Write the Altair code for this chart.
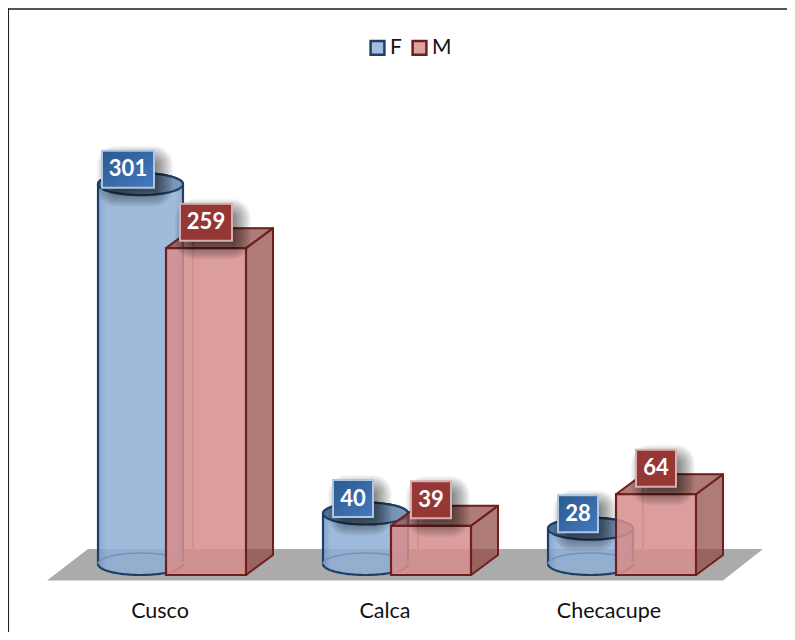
import altair as alt
import numpy as np
import pandas as pd

categories = ["Cusco", "Calca", "Checacupe"]
f_values = [301, 40, 28]
m_values = [259, 39, 64]

# layout constants (screen pixels relative to the chart origin)
W, H = 779, 624
ZERO_PX = 567
PX_PER_UNIT = 1.262
STEP = 225
CYL_LEFT, CYL_W = 90, 85
BOX_LEFT, BOX_W = 158, 80
DX, DY_PX = 27, 20
DY = DY_PX / PX_PER_UNIT
CYL_BASE = 11 / PX_PER_UNIT
RY = 11 / PX_PER_UNIT
FONT = "Lato"

x_scale = alt.Scale(domain=[0, W], range=[0, W], nice=False, zero=False)
y_scale = alt.Scale(domain=[(ZERO_PX - H) / PX_PER_UNIT, ZERO_PX / PX_PER_UNIT], range=[H, 0], nice=False, zero=False)
X = lambda f="x": alt.X(f"{f}:Q", scale=x_scale, axis=None, title=None)
Y = lambda f="y": alt.Y(f"{f}:Q", scale=y_scale, axis=None, title=None)
X2 = alt.X2("x2:Q")
Y2 = alt.Y2("y2:Q")


def vface(rows, fill, opacity, stroke=None, sw=1.5):
    kw = dict(fill=fill, fillOpacity=opacity, orient="vertical")
    if stroke:
        kw.update(stroke=stroke, strokeWidth=sw, strokeJoin="round")
    return alt.Chart(pd.DataFrame(rows)).mark_area(**kw).encode(x=X(), y=Y(), y2=Y2, detail="id:N")


def hface(rows, fill, opacity, stroke=None, sw=1.5):
    kw = dict(fill=fill, fillOpacity=opacity, orient="horizontal")
    if stroke:
        kw.update(stroke=stroke, strokeWidth=sw, strokeJoin="round")
    return alt.Chart(pd.DataFrame(rows)).mark_area(**kw).encode(y=Y(), x=X(), x2=X2, detail="id:N")


def rects(rows, fill, opacity=1.0, stroke=None, sw=1.5, radius=0):
    kw = dict(fill=fill, opacity=opacity)
    if stroke:
        kw.update(stroke=stroke, strokeWidth=sw)
    if radius:
        kw.update(cornerRadius=radius)
    return alt.Chart(pd.DataFrame(rows)).mark_rect(**kw).encode(x=X(), x2=X2, y=Y(), y2=Y2)


layers = []

# open frame: top and left edges only
layers.append(alt.Chart(pd.DataFrame([dict(x=0, x2=W, y=(ZERO_PX - 1) / PX_PER_UNIT)])).mark_rule(
    stroke="#555555", strokeWidth=2).encode(x=X(), x2=X2, y=Y()))
layers.append(alt.Chart(pd.DataFrame([dict(x=0.3, y=(ZERO_PX - H) / PX_PER_UNIT, y2=ZERO_PX / PX_PER_UNIT)])).mark_rule(
    stroke="#222222", strokeWidth=1.5).encode(x=X(), y=Y(), y2=Y2))

# floor
floor_front, floor_back = -5.5 / PX_PER_UNIT, 26 / PX_PER_UNIT
layers.append(hface([
    dict(id=0, y=floor_front, x=39, x2=715),
    dict(id=0, y=floor_back, x=80, x2=755),
], "#ABABAB", 1))

# cylinders
t = np.linspace(0, np.pi, 61)
body, top, inner = [], [], []
for i, v in enumerate(f_values):
    cx = CYL_LEFT + i * STEP + CYL_W / 2
    for a in t:
        px = cx - np.cos(a) * CYL_W / 2
        s = np.sin(a) * RY
        body.append(dict(id=i, x=px, y=CYL_BASE + v + s, y2=CYL_BASE - s))
        top.append(dict(id=i, x=px, y=CYL_BASE + v + s, y2=CYL_BASE + v - s))
        inner.append(dict(id=i, x=px, y=CYL_BASE + s))
body_fill = alt.LinearGradient(gradient="linear", x1=0, x2=1, y1=0, y2=0, stops=[
    alt.GradientStop(color="#7396C4", offset=0), alt.GradientStop(color="#8FAED4", offset=0.1),
    alt.GradientStop(color="#8FAED4", offset=0.9), alt.GradientStop(color="#7E9FC9", offset=1)])
layers.append(vface(body, body_fill, 0.85, "#1F3F66", 2.2))
layers.append(alt.Chart(pd.DataFrame(inner)).mark_line(stroke="#6F93BD", strokeWidth=1.5).encode(x=X(), y=Y(), detail="id:N"))
top_fill = alt.LinearGradient(gradient="linear", x1=0, x2=1, y1=0, y2=0, stops=[
    alt.GradientStop(color="#4F6F92", offset=0), alt.GradientStop(color="#7E9BB8", offset=1)])
layers.append(vface(top, top_fill, 1, "#1F3F66", 2.2))

# boxes
RED_DARK, RED_SOFT = "#6E2020", "#C98A88"
back, left_f, floor_f, right_f, top_f, front = [], [], [], [], [], []
for i, v in enumerate(m_values):
    l = BOX_LEFT + i * STEP
    r = l + BOX_W
    back.append(dict(x=l + DX, x2=r + DX, y=DY, y2=v + DY))
    left_f += [dict(id=i, x=l, y=v, y2=0), dict(id=i, x=l + DX, y=v + DY, y2=DY)]
    floor_f += [dict(id=i, y=0, x=l, x2=r), dict(id=i, y=DY, x=l + DX, x2=r + DX)]
    right_f += [dict(id=i, x=r, y=v, y2=0), dict(id=i, x=r + DX, y=v + DY, y2=DY)]
    top_f += [dict(id=i, y=v, x=l, x2=r), dict(id=i, y=v + DY, x=l + DX, x2=r + DX)]
    front.append(dict(x=l, x2=r, y=0, y2=v))
layers.append(alt.Chart(pd.DataFrame(back)).mark_rect(fill="#C0504D", fillOpacity=0.1, stroke=RED_SOFT, strokeWidth=1.5).encode(x=X(), x2=X2, y=Y(), y2=Y2))
layers.append(vface(left_f, "#C0504D", 0.08, RED_SOFT, 1.2))
layers.append(hface(floor_f, "#C0504D", 0.12, RED_SOFT, 1.2))
layers.append(vface(right_f, "#8E4A44", 0.7, RED_DARK, 2))
layers.append(hface(top_f, "#8E4A44", 0.7, RED_DARK, 2))
layers.append(alt.Chart(pd.DataFrame(front)).mark_rect(fill="#D68F8E", fillOpacity=0.85, stroke=RED_DARK, strokeWidth=2.2).encode(x=X(), x2=X2, y=Y(), y2=Y2))

# value labels
labels = []
for i, v in enumerate(f_values):
    labels.append(dict(s="F", txt=str(v), cx=CYL_LEFT + i * STEP + 30, cy=v + CYL_BASE + 15 / PX_PER_UNIT))
for i, v in enumerate(m_values):
    labels.append(dict(s="M", txt=str(v), cx=BOX_LEFT + i * STEP + 40, cy=v + 26 / PX_PER_UNIT))
box_h = 37 / PX_PER_UNIT
for d in labels:
    d["w"] = 52 if len(d["txt"]) == 3 else 40

# soft shadows built from nested translucent rectangles
for grow in range(12, -6, -1):
    rows = [dict(x=d["cx"] - d["w"] / 2 + 7 - grow, x2=d["cx"] + d["w"] / 2 + 7 + grow,
                 y=d["cy"] - box_h / 2 - (7 + grow) / PX_PER_UNIT,
                 y2=d["cy"] + box_h / 2 - (7 - grow) / PX_PER_UNIT) for d in labels]
    layers.append(rects(rows, "#000000", 0.03, radius=grow + 7))

blue_fill = alt.LinearGradient(gradient="linear", x1=0, x2=1, y1=0, y2=1, stops=[
    alt.GradientStop(color="#2C5A8E", offset=0), alt.GradientStop(color="#4379BE", offset=1)])
def box_rows(series):
    return [dict(x=d["cx"] - d["w"] / 2, x2=d["cx"] + d["w"] / 2, y=d["cy"] - box_h / 2, y2=d["cy"] + box_h / 2)
            for d in labels if d["s"] == series]
layers.append(rects(box_rows("F"), blue_fill, 1, "#AFC5E0", 2))
layers.append(rects(box_rows("M"), "#953735", 1, "#D8AFAE", 2))
layers.append(alt.Chart(pd.DataFrame(labels)).mark_text(font=FONT, fontWeight="bold", fontSize=22, color="white", baseline="middle").encode(
    x=X("cx"), y=Y("cy"), text="txt:N"))

# category labels
cat_rows = [dict(x=152, y=(ZERO_PX - 604) / PX_PER_UNIT, t=categories[0]),
            dict(x=377, y=(ZERO_PX - 604) / PX_PER_UNIT, t=categories[1]),
            dict(x=601, y=(ZERO_PX - 604) / PX_PER_UNIT, t=categories[2])]
layers.append(alt.Chart(pd.DataFrame(cat_rows)).mark_text(font=FONT, fontSize=21.5, color="#111111", baseline="middle").encode(
    x=X(), y=Y(), text="t:N"))

# legend carrier
series = pd.DataFrame(dict(s=["F", "M"], x=[0, 0], y=[0, 0]))
legend = dict(title=None, orient="none", legendX=359, legendY=29, direction="horizontal", columns=2,
              symbolType="square", symbolSize=190, symbolStrokeWidth=2.5, labelFont=FONT, labelFontSize=21,
              labelColor="#111111", columnPadding=5, labelOffset=2, symbolOpacity=1)
layers.append(alt.Chart(series).mark_point(filled=True, size=0, shape="square").encode(
    x=X(), y=Y(),
    fill=alt.Fill("s:N", scale=alt.Scale(domain=["F", "M"], range=["#A3BDDE", "#DDA3A2"]), legend=alt.Legend(**legend)),
    stroke=alt.Stroke("s:N", scale=alt.Scale(domain=["F", "M"], range=["#1F3F66", "#6E2020"]), legend=alt.Legend(**legend)),
))

chart = alt.layer(*layers).properties(
    width=W, height=H, padding=0, autosize=alt.AutoSizeParams(type="none"), background="white"
).configure_view(stroke=None)

chart.save("out.html", embed_options={"renderer": "svg", "actions": False})
